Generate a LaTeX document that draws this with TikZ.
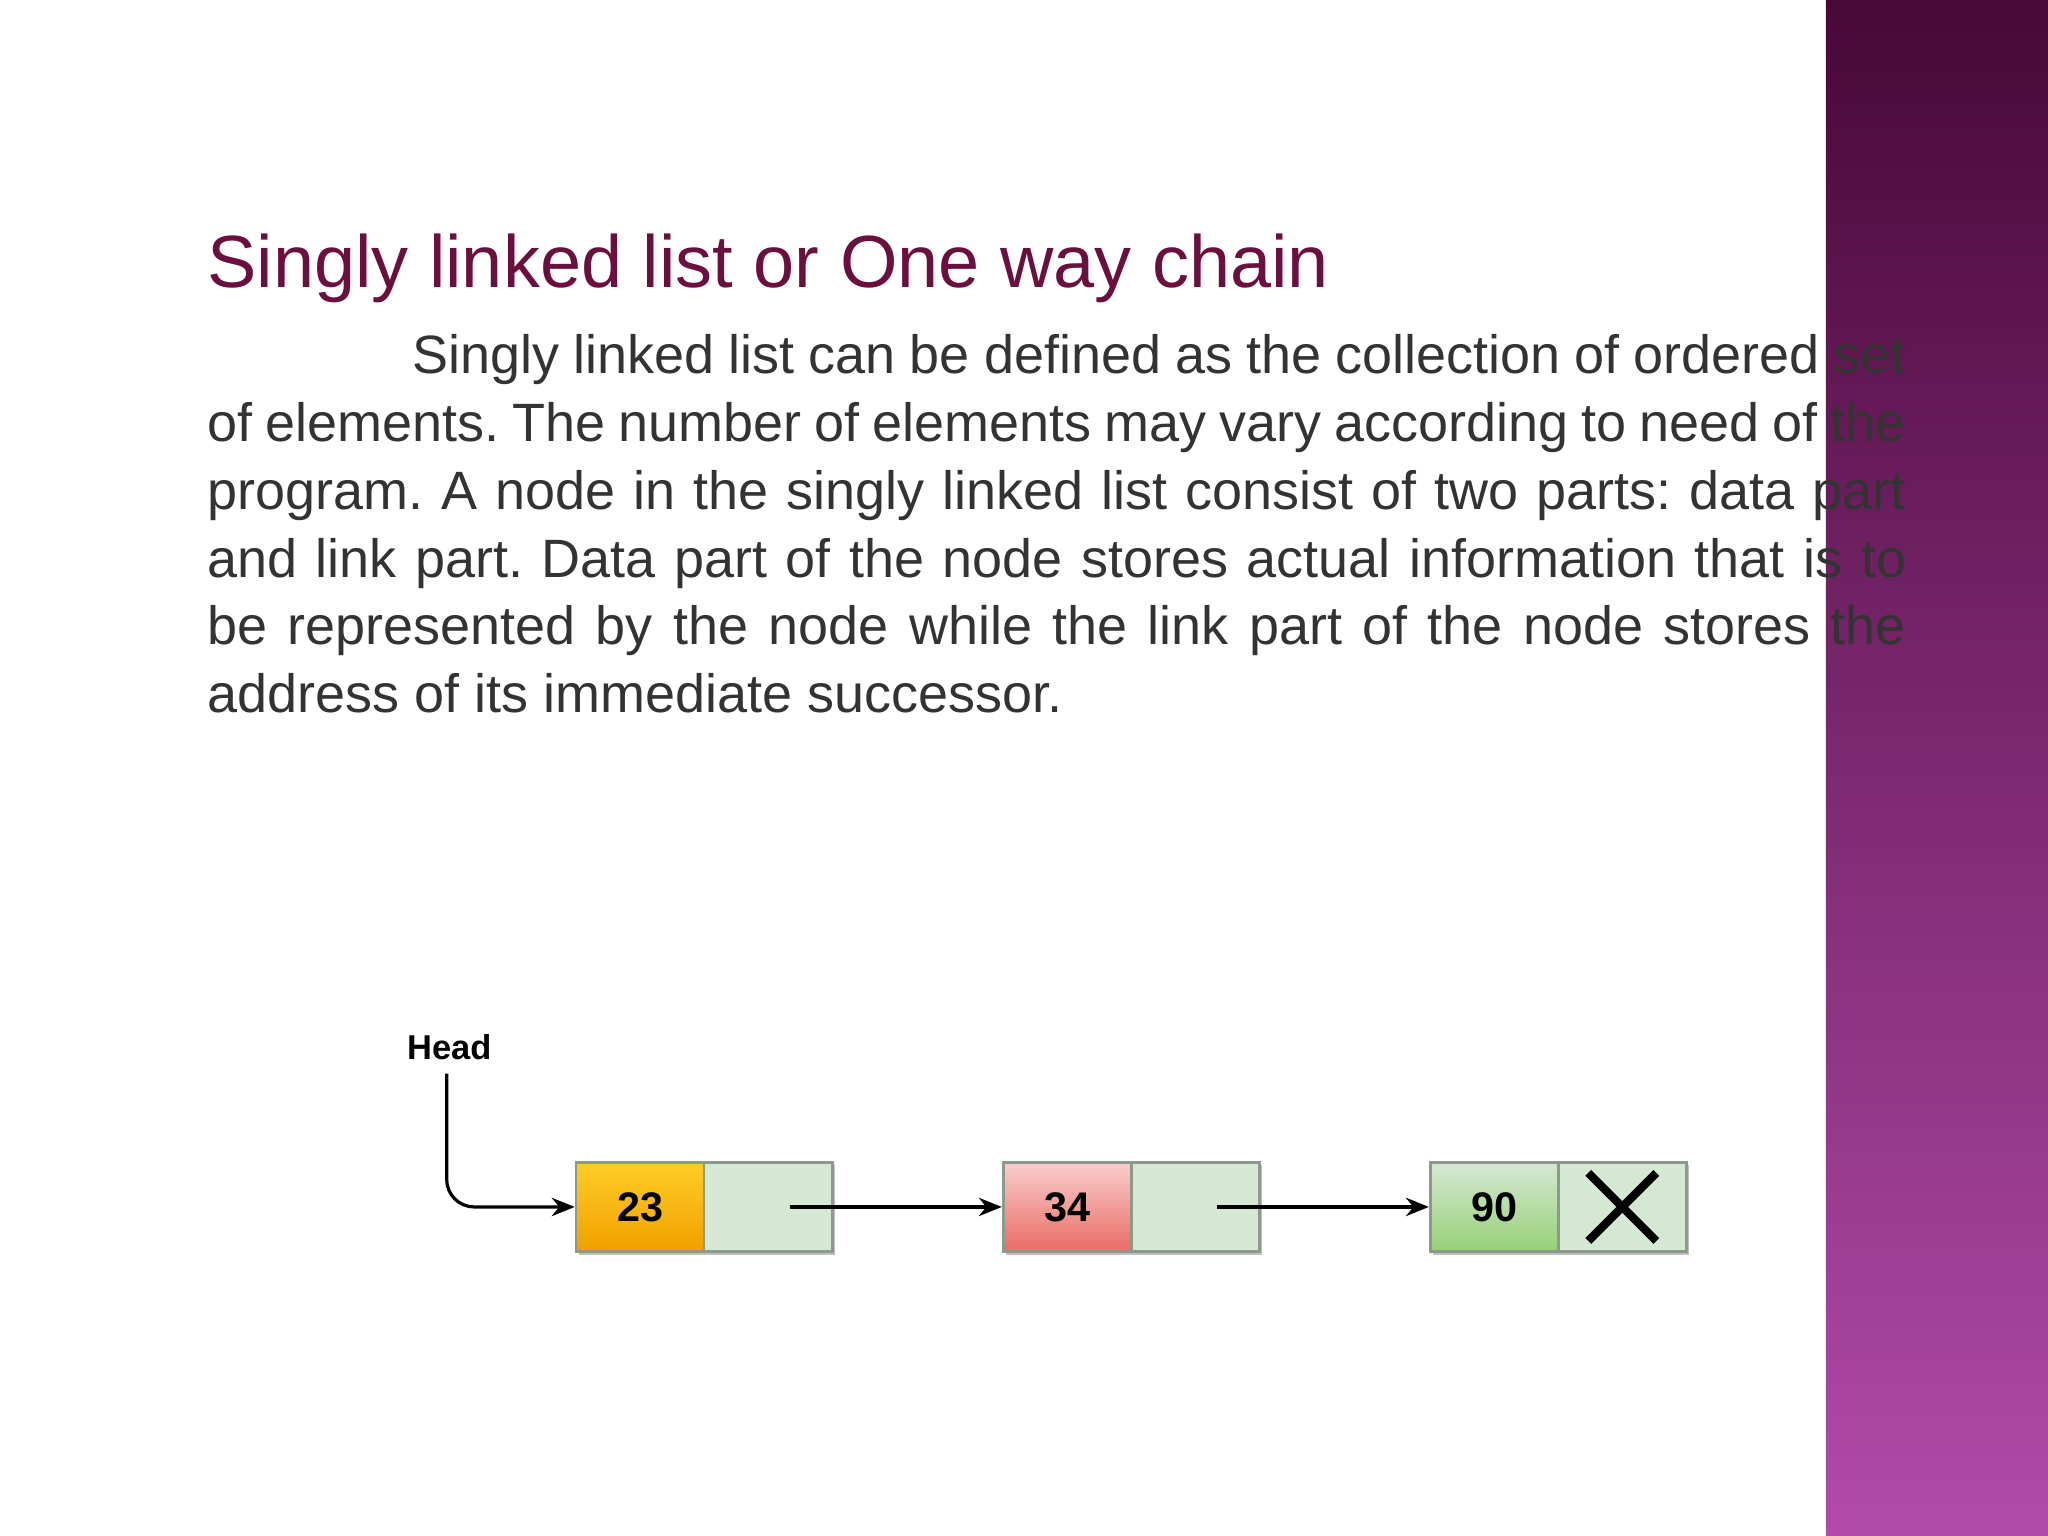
\documentclass[tikz,border=0pt]{standalone}
\usepackage{fontspec}
\setmainfont{Liberation Sans}
\usetikzlibrary{arrows.meta}
\definecolor{titlec}{HTML}{6B0F3E}
\definecolor{bodyc}{HTML}{333333}
\definecolor{linkc}{HTML}{D5E8D4}
\definecolor{bordc}{HTML}{8C9A8C}
\tikzset{
  cell/.style={draw=bordc, line width=0.6pt, minimum width=0.98cm, minimum height=0.68cm, inner sep=0pt, font=\bfseries\fontsize{9}{10}\selectfont},
  arr/.style={-{Stealth[length=5pt,width=4pt]}, line width=0.7pt}
}
\begin{document}
\begin{tikzpicture}[x=0.01cm,y=-0.01cm]
\useasboundingbox (0,0) rectangle (1568,1176);
\fill[white] (0,0) rectangle (1568,1176);
\fill[top color={rgb,255:red,72;green,8;blue,56}, bottom color={rgb,255:red,178;green,74;blue,170}] (1398,0) rectangle (1568,1176);
\node[anchor=base west, text=titlec, font=\fontsize{16.1}{18}\selectfont, inner sep=0pt] (title) at (158,220) {Singly linked list or One way chain};
\node[anchor=north west, text=bodyc, inner sep=0pt, text width=13cm, align=justify, font=\fontsize{11.75}{14.8}\selectfont] (body) at (158,255) {\frenchspacing\parindent=1.57cm\indent Singly linked list can be defined as the collection of ordered set of elements. The number of elements may vary according to need of the program. A node in the singly linked list consist of two parts: data part and link part. Data part of the node stores actual information that is to be represented by the node while the link part of the node stores the address of its immediate successor.};
% shadows
\foreach \x in {440,767,1094}{\fill[black!25] (\x+3,892) rectangle (\x+199,961);}
\node[cell, anchor=north west, top color={rgb,255:red,255;green,205;blue,40}, bottom color={rgb,255:red,240;green,160;blue,0}] (d1) at (440,889) {23};
\node[cell, anchor=north west, fill=linkc] (l1) at (538,889) {};
\node[cell, anchor=north west, top color={rgb,255:red,248;green,206;blue,204}, bottom color={rgb,255:red,234;green,107;blue,102}] (d2) at (767,889) {34};
\node[cell, anchor=north west, fill=linkc] (l2) at (865,889) {};
\node[cell, anchor=north west, top color={rgb,255:red,213;green,232;blue,212}, bottom color={rgb,255:red,151;green,208;blue,119}] (d3) at (1094,889) {90};
\node[cell, anchor=north west, fill=linkc] (l3) at (1192,889) {};
\draw[line width=1.8pt] ([xshift=0.24cm,yshift=-0.09cm]l3.north west) -- ([xshift=-0.24cm,yshift=0.09cm]l3.south east)
  ([xshift=-0.24cm,yshift=-0.09cm]l3.north east) -- ([xshift=0.24cm,yshift=0.09cm]l3.south west);
\node[font=\bfseries\fontsize{7.5}{9}\selectfont, inner sep=1pt] (head) at (344,802) {Head};
\coordinate (hs) at (342,822);
\coordinate (s1) at (l1.center);
\coordinate (s2) at (l2.center);
\draw[arr, rounded corners=6pt] (hs) -- (hs |- d1.west) -- (d1.west);
\draw[arr] ([xshift=0.17cm]s1) -- (d2.west);
\draw[arr] ([xshift=0.17cm]s2) -- (d3.west);
\end{tikzpicture}
\end{document}
